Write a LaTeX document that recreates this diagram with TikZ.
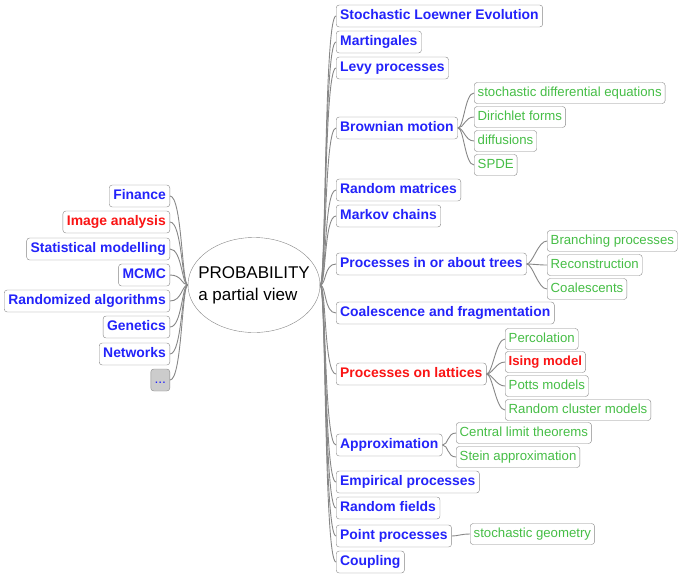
\documentclass[tikz,border=0pt]{standalone}
\usepackage{fontspec}
\setmainfont{Liberation Sans}
\usetikzlibrary{shapes.geometric}
\definecolor{topicblue}{RGB}{35,35,250}
\definecolor{topicred}{RGB}{250,20,20}
\definecolor{subgreen}{RGB}{70,190,70}
\definecolor{linegray}{RGB}{135,135,135}
\begin{document}
\begin{tikzpicture}[x=1pt,y=-1pt,
  topic/.style={draw=linegray,rounded corners=3pt,fill=white,text=topicblue,font=\fontsize{13.9}{15}\selectfont\bfseries,inner xsep=4pt,inner ysep=0pt,text height=10pt,text depth=3pt,minimum height=22pt},
  hot/.style={topic,text=topicred},
  sub/.style={draw=linegray,rounded corners=3pt,fill=white,text=subgreen,font=\fontsize{13.2}{15}\selectfont,inner xsep=3.5pt,inner ysep=0pt,text height=9.5pt,text depth=3pt,minimum height=21pt},
  link/.style={draw=linegray,line width=0.9pt}]
\useasboundingbox (0,0) rectangle (679,573);
\node[ellipse,draw=linegray,fill=white,minimum width=132pt,minimum height=95pt,inner sep=0pt] (prob) at (254,285) {};
\node[align=left,inner sep=0pt,font=\fontsize{17}{22}\selectfont] (title) at (prob) {PROBABILITY\\a partial view};
% left side
\node[topic,anchor=east] (fin) at (170,196) {Finance};
\node[hot,anchor=east] (img) at (170,222) {Image analysis};
\node[topic,anchor=east] (stat) at (170,249) {Statistical modelling};
\node[topic,anchor=east] (mcmc) at (170,275) {MCMC};
\node[topic,anchor=east] (rand) at (170,301) {Randomized algorithms};
\node[topic,anchor=east] (gen) at (170,327) {Genetics};
\node[topic,anchor=east] (net) at (170,354) {Networks};
\node[topic,anchor=east,fill=gray!40,minimum width=19pt,inner xsep=2pt,font=\fontsize{13.9}{15}\selectfont] (more) at (170,380) {...};
% right side
\node[topic,anchor=west] (sle) at (336,16) {Stochastic Loewner Evolution};
\node[topic,anchor=west] (mart) at (336,42) {Martingales};
\node[topic,anchor=west] (levy) at (336,68) {Levy processes};
\node[topic,anchor=west] (bm) at (336,128) {Brownian motion};
\node[topic,anchor=west] (rmat) at (336,190) {Random matrices};
\node[topic,anchor=west] (markov) at (336,216) {Markov chains};
\node[topic,anchor=west] (trees) at (336,264) {Processes in or about trees};
\node[topic,anchor=west] (coal) at (336,313) {Coalescence and fragmentation};
\node[hot,anchor=west] (latt) at (336,374) {Processes on lattices};
\node[topic,anchor=west] (approx) at (336,445) {Approximation};
\node[topic,anchor=west] (emp) at (336,482) {Empirical processes};
\node[topic,anchor=west] (fields) at (336,508) {Random fields};
\node[topic,anchor=west] (point) at (336,536) {Point processes};
\node[topic,anchor=west] (coup) at (336,562) {Coupling};
% subtopics
\node[sub,anchor=west] (sde) at (474,93) {stochastic differential equations};
\node[sub,anchor=west] (dir) at (474,117) {Dirichlet forms};
\node[sub,anchor=west] (diff) at (474,141) {diffusions};
\node[sub,anchor=west] (spde) at (474,165) {SPDE};
\node[sub,anchor=west] (branch) at (547,241) {Branching processes};
\node[sub,anchor=west] (recon) at (547,265) {Reconstruction};
\node[sub,anchor=west] (coalsc) at (547,289) {Coalescents};
\node[sub,anchor=west] (perc) at (505,339) {Percolation};
\node[sub,anchor=west,text=topicred,font=\fontsize{13.2}{15}\selectfont\bfseries] (ising) at (505,362) {Ising model};
\node[sub,anchor=west] (potts) at (505,386) {Potts models};
\node[sub,anchor=west] (rcm) at (505,410) {Random cluster models};
\node[sub,anchor=west] (clt) at (456,433) {Central limit theorems};
\node[sub,anchor=west] (stein) at (456,457) {Stein approximation};
\node[sub,anchor=west] (geom) at (470,534) {stochastic geometry};
% connectors
\foreach \n in {fin,img,stat,mcmc,rand,gen,net,more}
  \draw[link] (prob.west) .. controls +(-6,0) and +(12,0) .. (\n.east);
\foreach \n in {sle,mart,levy,bm,rmat,markov,trees,coal,latt,approx,emp,fields,point,coup}
  \draw[link] (prob.east) .. controls +(6,0) and +(-12,0) .. (\n.west);
\foreach \p/\c in {bm/sde,bm/dir,bm/diff,bm/spde,trees/branch,trees/recon,trees/coalsc,latt/perc,latt/ising,latt/potts,latt/rcm,approx/clt,approx/stein,point/geom}
  \draw[link] (\p.east) .. controls +(6,0) and +(-9,0) .. (\c.west);
\end{tikzpicture}
\end{document}
